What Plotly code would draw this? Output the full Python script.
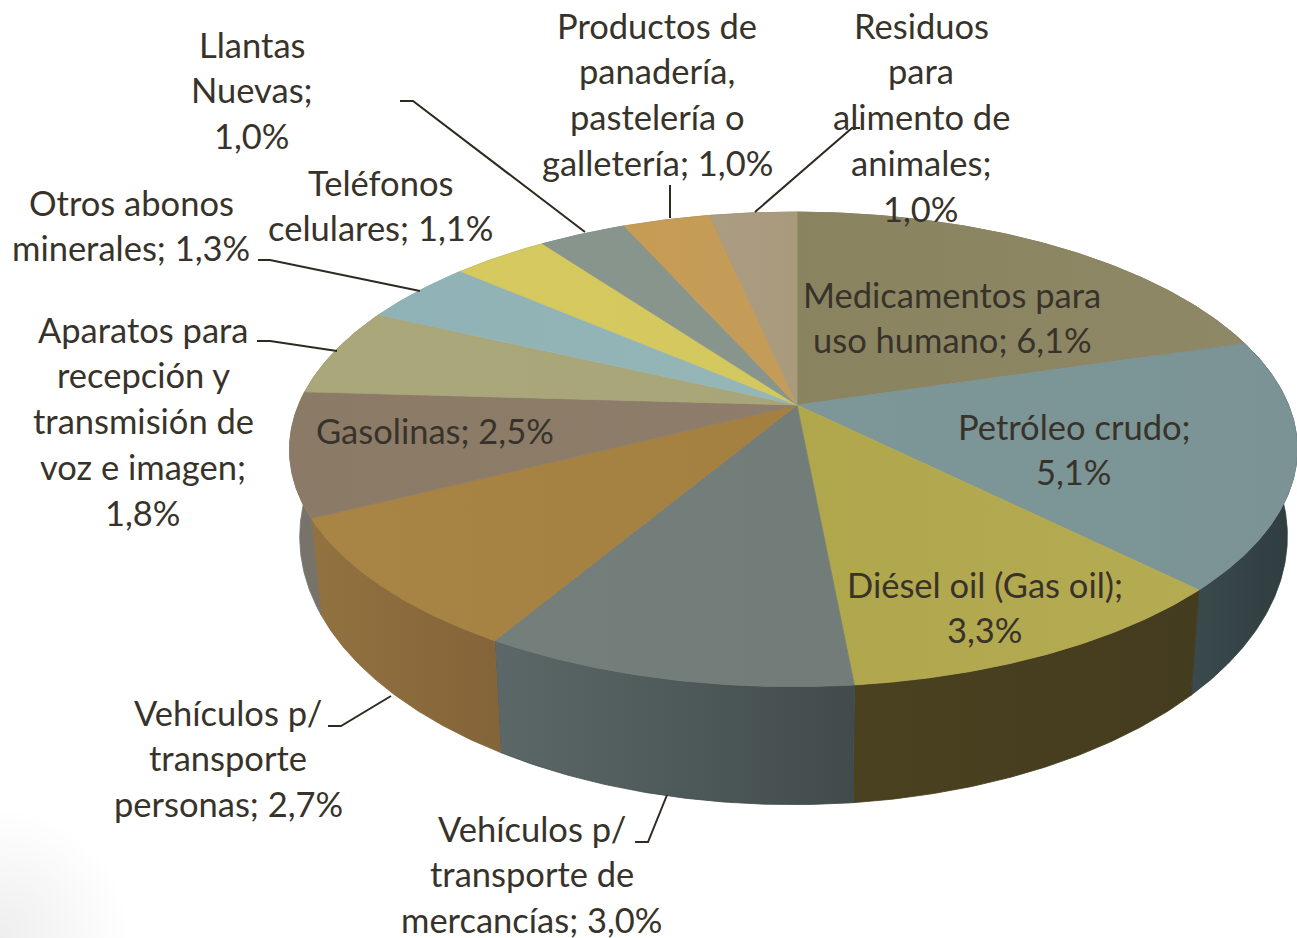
import math
import plotly.graph_objects as go

# --- data -------------------------------------------------------------
categories = ["Medicamentos para uso humano", "Petróleo crudo", "Diésel oil (Gas oil)",
              "Vehículos p/ transporte de mercancías", "Vehículos p/ transporte personas",
              "Gasolinas", "Aparatos para recepción y transmisión de voz e imagen",
              "Otros abonos minerales", "Teléfonos celulares", "Llantas Nuevas",
              "Productos de panadería, pastelería o galletería",
              "Residuos para alimento de animales"]
values = [6.1, 5.1, 3.3, 3.0, 2.7, 2.5, 1.8, 1.3, 1.1, 1.0, 1.0, 1.0]
label_lines = [
    ["Medicamentos para", "uso humano; 6,1%"],
    ["Petróleo crudo;", "5,1%"],
    ["Diésel oil (Gas oil);", "3,3%"],
    ["Vehículos p/", "transporte de", "mercancías; 3,0%"],
    ["Vehículos p/", "transporte", "personas; 2,7%"],
    ["Gasolinas; 2,5%"],
    ["Aparatos para", "recepción y", "transmisión de", "voz e imagen;", "1,8%"],
    ["Otros abonos", "minerales; 1,3%"],
    ["Teléfonos", "celulares; 1,1%"],
    ["Llantas", "Nuevas;", "1,0%"],
    ["Productos de", "panadería,", "pastelería o", "galletería; 1,0%"],
    ["Residuos", "para", "alimento de", "animales;", "1,0%"],
]
# --- styles and positions --------------------------------------------
top_colors = [("#8a8360", "#8f8866"), ("#7d9798", "#7b9394"), ("#b0a64c", "#b5ab52"),
              ("#747f7b", "#727d79"), ("#a88545", "#a37f40"), ("#8a7a66", "#8d7d6a"),
              ("#aaa77a", "#a8a578"), ("#8fb2b6", "#96b6b6"), ("#d5c95f", "#d3c75f"),
              ("#87958d", "#88958c"), ("#c79c55", "#c39c58"), ("#ab9d83", "#a99a7c")]
side_colors = [("#6e684c", "#6e684c"), ("#3a4a4d", "#2f3c40"), ("#4a4120", "#443c1e"),
               ("#5c6868", "#414b4b"), ("#92723f", "#836439"), ("#77736a", "#77736a"),
               ("#8a8866", "#8a8866"), ("#7a9598", "#7a9598"), ("#a89f4f", "#a89f4f"),
               ("#6e7a72", "#6e7a72"), ("#a08048", "#a08048"), ("#8a7f69", "#8a7f69")]
label_cx = [952, 1074, 985, 532, 228, 435, 143, 131, 380, 252, 657, 921]
label_y0 = [294, 426, 584, 828, 712, 430, 329, 202, 182, 44, 25, 25]
line_gap = 45.8
leaders = [
    ([328, 341, 391], [726, 726, 696]),
    ([635, 648, 667], [842, 842, 795]),
    ([257, 270, 337], [341, 341, 351]),
    ([258, 270, 420], [260, 260, 291]),
    ([400, 413, 585], [101, 101, 232]),
    ([670, 670], [185, 218]),
    ([860, 852, 755], [128, 128, 212]),
]
APEX = (797.0, 405.0)
SX, SY, K, J = 495.0, 229.0, 0.187, 0.007
INK = "#38332a"


def rim(deg):
    a = math.radians(deg)
    u, v = math.sin(a), math.cos(a)
    d = 1 + K * v + J * u
    return APEX[0] + SX * u / d, APEX[1] - SY * v / d


def drop(x, y):
    return x - (x - 800) * 0.02, y + 118 - (687 - y) * 0.13


fig = go.Figure()

# faint corner shade of the slide background
fig.add_trace(go.Scatter(x=[-130, 130, 130, -130, -130], y=[808, 808, 1068, 1068, 808], mode="lines",
                         line=dict(width=0), fill="toself", hoverinfo="skip",
                         fillgradient=dict(type="radial",
                                           colorscale=[[0, "#eeeeee"], [1, "#ffffff"]])))

total = sum(values)
edges = [0.0]
for val in values:
    edges.append(edges[-1] + val / total * 360)


def arc(i):
    n = max(2, int((edges[i + 1] - edges[i]) * 2))
    return [rim(edges[i] + (edges[i + 1] - edges[i]) * t / n) for t in range(n + 1)]


# sides first, tops over them
for i in range(len(values)):
    pts = arc(i)
    low = [drop(*p) for p in pts]
    poly = pts + low[::-1] + [pts[0]]
    c0, c1 = side_colors[i]
    fig.add_trace(go.Scatter(x=[p[0] for p in poly], y=[p[1] for p in poly], mode="lines",
                             line=dict(width=0.8, color=c1), fill="toself", hoverinfo="skip",
                             fillgradient=dict(type="horizontal", colorscale=[[0, c0], [1, c1]]),
                             name=categories[i]))
for i in range(len(values)):
    pts = [APEX] + arc(i) + [APEX]
    c0, c1 = top_colors[i]
    fig.add_trace(go.Scatter(x=[p[0] for p in pts], y=[p[1] for p in pts], mode="lines",
                             line=dict(width=0.8, color=c1), fill="toself", hoverinfo="skip",
                             fillgradient=dict(type="horizontal", colorscale=[[0, c0], [1, c1]]),
                             name=categories[i]))

for xs, ys in leaders:
    fig.add_trace(go.Scatter(x=xs, y=ys, mode="lines", line=dict(color="#2f2a20", width=2),
                             hoverinfo="skip"))

for i, lines in enumerate(label_lines):
    for j, text in enumerate(lines):
        fig.add_annotation(x=label_cx[i], y=label_y0[i] + j * line_gap, text=text, showarrow=False,
                           xanchor="center", yanchor="middle",
                           font=dict(family="Lato", size=34.5, color=INK))

fig.update_xaxes(range=[0, 1297], visible=False, fixedrange=True)
fig.update_yaxes(range=[938, 0], visible=False, fixedrange=True)
fig.update_layout(width=1297, height=938, margin=dict(l=0, r=0, t=0, b=0), showlegend=False,
                  paper_bgcolor="#ffffff", plot_bgcolor="#ffffff")
fig.write_html("out.html", config={"displayModeBar": False},
               post_script="document.body.style.margin='0';document.body.style.overflow='hidden';")
